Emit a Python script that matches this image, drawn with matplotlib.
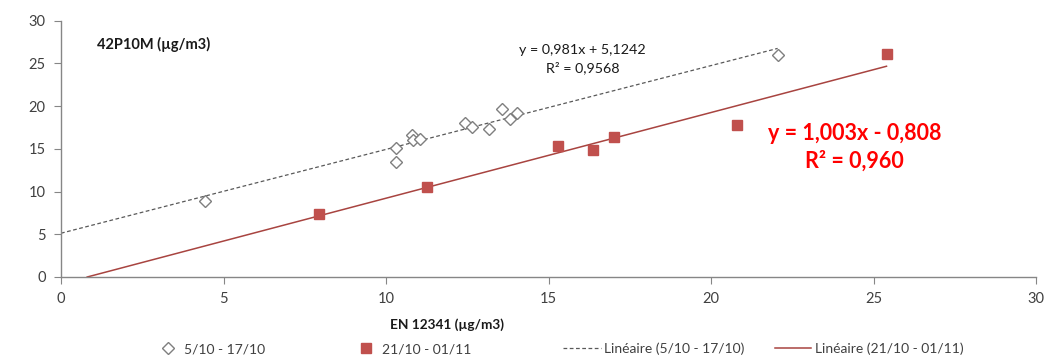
import matplotlib
matplotlib.use("Agg")
import matplotlib.pyplot as plt
from matplotlib.lines import Line2D
import numpy as np

plt.rcParams['font.family'] = ['Lato', 'DejaVu Sans']

# Series 1: 5/10 - 17/10 (open diamonds)
x1 = [4.43, 10.31, 10.31, 10.79, 10.83, 11.05, 12.43, 12.64, 13.18, 13.56, 13.82, 14.04, 22.05]
y1 = [8.87, 13.5, 15.06, 16.6, 16.0, 16.1, 17.98, 17.6, 17.3, 19.7, 18.45, 19.15, 25.95]
# Series 2: 21/10 - 01/11 (red squares)
x2 = [7.95, 11.25, 15.3, 16.36, 17.0, 20.79, 25.4]
y2 = [7.43, 10.48, 15.3, 14.85, 16.4, 17.8, 26.05]

# Trendline coefficients (from chart labels)
slope1, icpt1 = 0.981, 5.1242
slope2, icpt2 = 1.003, -0.808

labels = ["5/10 - 17/10", "21/10 - 01/11", "Linéaire (5/10 - 17/10)", "Linéaire (21/10 - 01/11)"]
eq1 = "y = 0,981x + 5,1242\nR² = 0,9568"
eq2 = "y = 1,003x - 0,808\nR² = 0,960"
title_txt = "42P10M (µg/m3)"
xlabel_txt = "EN 12341 (µg/m3)"

red = '#C0504D'
gray = '#595959'
tickc = '#404040'

fig = plt.figure(figsize=(10.44, 3.59), dpi=100)
ax = fig.add_axes([61/1044, 1 - 277/359, (1036-61)/1044, (277-20.7)/359])

# trendlines
lx1 = np.array([0, max(x1)])
ax.plot(lx1, slope1*lx1 + icpt1, ls=(0, (3, 2)), color=gray, lw=0.9, zorder=2)
lx2 = np.array([-icpt2/slope2, max(x2)])
ax.plot(lx2, slope2*lx2 + icpt2, ls='-', color='#A84440', lw=1.1, zorder=2)

ax.plot(x1, y1, ls='none', marker='D', markersize=5.8, mfc='white', mec='#7f7f7f', mew=1.0, zorder=3)
ax.plot(x2, y2, ls='none', marker='s', markersize=7, mfc=red, mec=red, zorder=3)

ax.set_xlim(0, 30)
ax.set_ylim(0, 30)
ax.set_xticks(range(0, 31, 5))
ax.set_yticks(range(0, 31, 5))
for s in ['top', 'right']:
    ax.spines[s].set_visible(False)
for s in ['left', 'bottom']:
    ax.spines[s].set_color('#868686')
    ax.spines[s].set_linewidth(1)
ax.tick_params(axis='both', direction='out', length=5, color='#868686', labelcolor=tickc, labelsize=10.5, pad=6)

ax.text(1.1, 27.2, title_txt, fontsize=10.5, fontweight='bold', color='#1a1a1a', va='center', ha='left')
ax.text(16.05, 25.5, eq1, fontsize=10.3, color='#1a1a1a', ha='center', va='center', linespacing=1.45)
ax.text(24.42, 15.2, eq2, fontsize=15.5, fontweight='bold', color='#FF0000', ha='center', va='center', linespacing=1.4)

fig.text(447/1044, 1 - 325/359, xlabel_txt, fontsize=9.8, fontweight='bold', color='#1a1a1a', ha='center', va='center')

handles = [
    Line2D([], [], ls='none', marker='D', markersize=5.8, mfc='white', mec='#7f7f7f'),
    Line2D([], [], ls='none', marker='s', markersize=7, mfc=red, mec=red),
    Line2D([], [], ls=(0, (3, 2)), color=gray, lw=0.9),
    Line2D([], [], ls='-', color='#A84440', lw=1.1),
]
# (left edge of handle in px, handlelength, handletextpad)
leg_pos = [(158, 1.5, 0.4), (356, 1.5, 0.4), (563, 2.7, 0.25), (775, 2.6, 0.3)]
ly = 1 - 349/359
for h, lab, (px, hl, hp) in zip(handles, labels, leg_pos):
    lg = fig.legend([h], [lab], loc='center left', bbox_to_anchor=(px/1044, ly), frameon=False,
                    fontsize=10, handlelength=hl, handletextpad=hp, borderpad=0, borderaxespad=0)
    for t in lg.get_texts():
        t.set_color(tickc)

fig.savefig('out.png', dpi=100)
